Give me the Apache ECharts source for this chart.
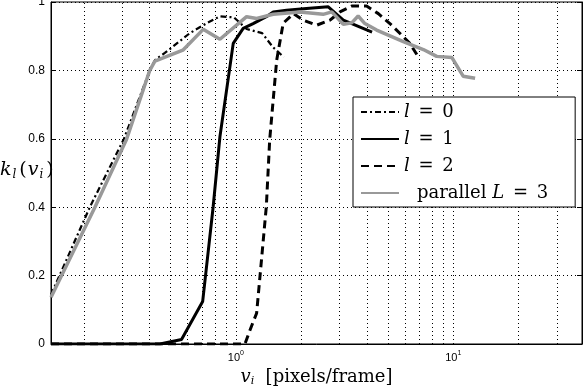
<!DOCTYPE html>
<html>
<head>
<meta charset="utf-8">
<script src="https://cdn.jsdelivr.net/npm/echarts@6/dist/echarts.min.js"></script>
<style>
  html, body { margin: 0; padding: 0; background: #fff; }
  #chart { width: 584px; height: 386px; }
</style>
</head>
<body>
<div id="chart"></div>
<script>
// values (x: pixels/frame, y: k_l)
const l0V = [0.141, 0.213, 0.305, 0.402, 0.424, 0.471, 0.614, 0.733, 0.844, 0.979, 1.12, 1.32, 1.48, 1.66];
const l0K = [0.144, 0.401, 0.599, 0.801, 0.830, 0.851, 0.909, 0.938, 0.958, 0.955, 0.921, 0.909, 0.868, 0.839];

const l1V = [0.141, 0.447, 0.562, 0.703, 0.786, 0.844, 0.972, 1.08, 1.20, 1.38, 1.485, 1.71, 2.11, 2.66, 3.12, 4.23];
const l1K = [0, 0, 0.013, 0.124, 0.402, 0.606, 0.879, 0.923, 0.937, 0.957, 0.971, 0.976, 0.981, 0.986, 0.947, 0.912];

const l2V = [0.141, 1.10, 1.16, 1.245, 1.29, 1.38, 1.43, 1.54, 1.65, 1.84, 2.04, 2.35, 2.71, 3.01, 3.41, 3.99, 4.52, 5.11, 5.69, 6.31, 6.90];
const l2K = [0, 0, 0.04, 0.09, 0.197, 0.402, 0.597, 0.830, 0.938, 0.966, 0.947, 0.932, 0.947, 0.971, 0.988, 0.988, 0.966, 0.937, 0.908, 0.879, 0.840];

const parV = [0.141, 0.2245, 0.314, 0.402, 0.424, 0.570, 0.707, 0.844, 1.12, 1.245, 1.485, 1.97, 2.52, 2.76, 3.12, 3.41, 3.65, 3.92, 4.44, 5.89, 7.28, 8.39, 9.84, 11.1, 12.6];
const parK = [0.137, 0.400, 0.599, 0.801, 0.827, 0.859, 0.920, 0.891, 0.957, 0.952, 0.964, 0.971, 0.964, 0.971, 0.935, 0.939, 0.959, 0.937, 0.918, 0.884, 0.861, 0.841, 0.838, 0.783, 0.777];

const seriesNames = ['l = 0', 'l = 1', 'l = 2', 'parallel L = 3'];

// log grid positions (matlab minor grid)
const xGrid = [0.2, 0.3, 0.4, 0.5, 0.6, 0.7, 0.8, 0.9, 1, 2, 3, 4, 5, 6, 7, 8, 9, 10, 20, 30];

function zip(xs, ys) {
    return xs.map((x, i) => [x, ys[i]]);
}

const gridStyle = { color: '#000', width: 1, type: [1, 3] };
const serif = 'DejaVu Serif';

const chart = echarts.init(document.getElementById('chart'), null, { renderer: 'canvas' });

const option = {
    animation: false,
    backgroundColor: '#fff',
    grid: {
        left: 51, right: 2, top: 2, bottom: 42,
        outerBoundsMode: 'none',
        containLabel: false,
        show: true, borderColor: '#000', borderWidth: 1
    },
    xAxis: {
        type: 'log',
        logBase: 10,
        min: 0.141,
        max: 39.1,
        axisLine: { show: true, lineStyle: { color: '#000', width: 1 } },
        axisTick: { show: false },
        splitLine: { show: false },
        axisLabel: {
            showMinLabel: false,
            showMaxLabel: false,
            margin: 6,
            color: '#000',
            fontFamily: 'Liberation Sans',
            fontSize: 11,
            formatter: function (v) {
                const e = Math.log10(v);
                if (Math.abs(e - Math.round(e)) > 1e-6) return '';
                return '{b|10}{s|' + Math.round(e) + '}';
            },
            rich: {
                b: { fontFamily: 'Liberation Sans', fontSize: 11, color: '#000' },
                s: { fontFamily: 'Liberation Sans', fontSize: 7, color: '#000', padding: [0, 0, 8, 0] }
            }
        },
        name: '{it|v}{sub|i}{n|  [pixels/frame]}',
        nameLocation: 'middle',
        nameGap: 20,
        nameTextStyle: {
            rich: {
                it: { fontFamily: serif, fontStyle: 'italic', fontSize: 18, color: '#000' },
                sub: { fontFamily: serif, fontStyle: 'italic', fontSize: 11, color: '#000', padding: [8, 0, 0, 0] },
                n: { fontFamily: serif, fontSize: 18, color: '#000' }
            }
        }
    },
    yAxis: [{
        type: 'value',
        min: 0,
        max: 1,
        interval: 0.2,
        axisLine: { show: true, lineStyle: { color: '#000', width: 1 } },
        axisTick: { show: true, inside: true, length: 5, lineStyle: { color: '#000' } },
        splitLine: { show: true, lineStyle: gridStyle },
        axisLabel: {
            color: '#000',
            fontFamily: 'Liberation Sans',
            fontSize: 12,
            margin: 6,
            formatter: v => (v === 0 || v === 1) ? String(v) : v.toFixed(1)
        }
    }, {
        type: 'value',
        position: 'right',
        min: 0,
        max: 1,
        interval: 0.2,
        axisLine: { show: true, lineStyle: { color: '#000', width: 1 } },
        axisTick: { show: true, inside: true, length: 5, lineStyle: { color: '#000' } },
        splitLine: { show: false },
        axisLabel: { show: false }
    }],
    legend: {
        data: seriesNames,
        orient: 'vertical',
        left: 353,
        top: 97,
        padding: [5, 27, 4, 7],
        itemWidth: 38,
        itemHeight: 14,
        itemGap: 7,
        borderColor: '#000',
        borderWidth: 1,
        borderRadius: 0,
        backgroundColor: '#fff',
        itemStyle: { opacity: 0, borderWidth: 0 },
        textStyle: { fontFamily: serif, fontSize: 18, color: '#000', lineHeight: 20,
            rich: {
                it: { fontFamily: serif, fontStyle: 'italic', fontSize: 18, color: '#000' },
                eq: { fontFamily: serif, fontSize: 18, color: '#000', padding: [0, 3, 0, 3] },
                sp: { width: 13 }
            }
        },
        formatter: function (name) {
            const n = name.slice(-1);
            if (name.indexOf('parallel') === 0) return '{sp|}parallel {it|L}{eq| = }' + n;
            return '{it|l}{eq| = }' + n;
        }
    },
    graphic: [{
        type: 'text',
        left: 0,
        top: 161,
        style: {
            text: '{it|k}{sub|l}{n|(}{it|v}{sub|i}{n|)}',
            rich: {
                it: { fontFamily: serif, fontStyle: 'italic', fontSize: 19, fill: '#000' },
                sub: { fontFamily: serif, fontStyle: 'italic', fontSize: 12, fill: '#000', padding: [8, 2, 0, 1] },
                n: { fontFamily: serif, fontSize: 19, fill: '#000', padding: [0, 1, 0, 1] }
            }
        }
    }],
    series: [{
        name: seriesNames[0],
        type: 'line',
        data: zip(l0V, l0K),
        symbol: 'none',
        lineStyle: { color: '#000', width: 2.2, type: [6, 3, 2, 3] },
        itemStyle: { color: '#000' },
        markLine: {
            silent: true,
            symbol: 'none',
            label: { show: false },
            lineStyle: gridStyle,
            z: 1,
            data: xGrid.map(v => ({ xAxis: v }))
        }
    }, {
        name: seriesNames[1],
        type: 'line',
        data: zip(l1V, l1K),
        symbol: 'none',
        lineStyle: { color: '#000', width: 3, type: 'solid' },
        itemStyle: { color: '#000' }
    }, {
        name: seriesNames[2],
        type: 'line',
        data: zip(l2V, l2K),
        symbol: 'none',
        lineStyle: { color: '#000', width: 3, type: [8, 5] },
        itemStyle: { color: '#000' }
    }, {
        name: seriesNames[3],
        type: 'line',
        data: zip(parV, parK),
        symbol: 'none',
        lineStyle: { color: '#999', width: 3.5, type: 'solid' },
        itemStyle: { color: '#999' }
    }]
};

chart.setOption(option);
</script>
</body>
</html>
